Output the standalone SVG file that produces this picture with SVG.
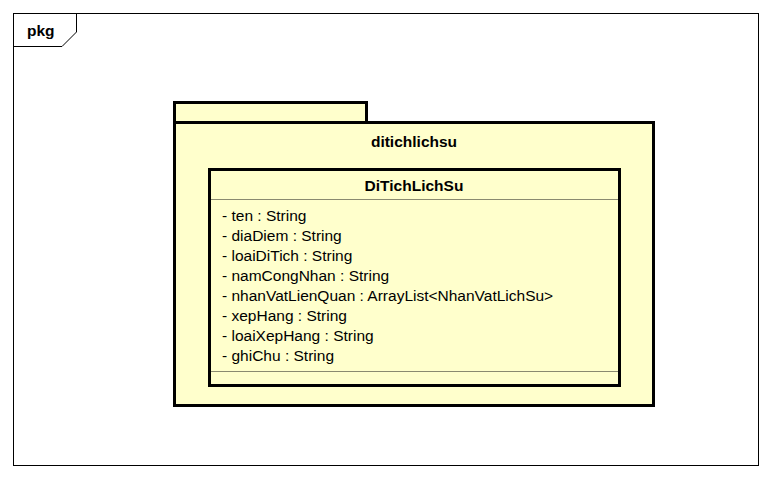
<svg xmlns="http://www.w3.org/2000/svg" width="772" height="478" viewBox="0 0 772 478">
<style>
.t{font-family:"Liberation Sans",Arial,sans-serif;font-size:15.5px;fill:#000}
.b{font-weight:bold}
.pkg{fill:#FFFFCC;stroke:#000;stroke-width:3}
.sep{stroke:#8a8a70;stroke-width:1}
</style>
<rect width="772" height="478" fill="#fff"/>
<g id="frame">
<rect x="13.5" y="13.5" width="745" height="452" fill="none" stroke="#000" stroke-width="1"/>
<path d="M13.5 46.5 H62 L76.5 32 V13.5" fill="none" stroke="#000" stroke-width="1"/>
<text class="t b" x="27" y="36">pkg</text>
</g>
<g id="package-ditichlichsu">
<rect class="pkg" x="174.5" y="102.5" width="192" height="20"/>
<rect class="pkg" x="174.5" y="122.5" width="479" height="283"/>
<text class="t b" x="414" y="147" text-anchor="middle">ditichlichsu</text>
</g>
<g id="class-DiTichLichSu">
<rect class="pkg" x="209.5" y="169.5" width="410" height="216"/>
<line class="sep" x1="211" y1="199.5" x2="618" y2="199.5"/>
<line class="sep" x1="211" y1="371.5" x2="618" y2="371.5"/>
<text class="t b" x="414" y="191" text-anchor="middle">DiTichLichSu</text>
<text class="t" x="222" y="221">- ten : String</text>
<text class="t" x="222" y="241">- diaDiem : String</text>
<text class="t" x="222" y="261">- loaiDiTich : String</text>
<text class="t" x="222" y="281">- namCongNhan : String</text>
<text class="t" x="222" y="301">- nhanVatLienQuan : ArrayList&lt;NhanVatLichSu&gt;</text>
<text class="t" x="222" y="321">- xepHang : String</text>
<text class="t" x="222" y="341">- loaiXepHang : String</text>
<text class="t" x="222" y="361">- ghiChu : String</text>
</g>
<g id="connectors"></g>
</svg>
